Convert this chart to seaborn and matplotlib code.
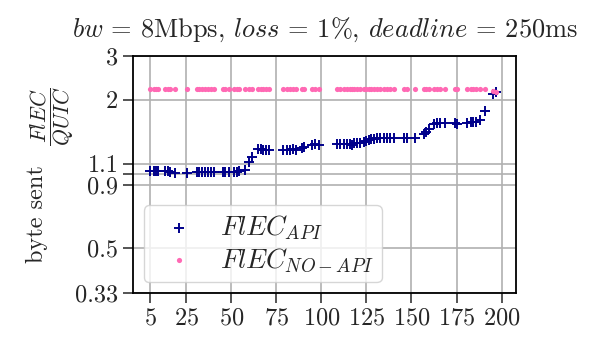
import numpy as np
import pandas as pd
import seaborn as sns
import matplotlib.pyplot as plt
from matplotlib.ticker import NullLocator

# x positions of the runs (shared by both series)
x_runs = [5, 6.9, 8.1, 9.6, 13.3, 14.8, 16.1, 18.9, 25.4, 30.9, 32.2, 33.7, 35.6, 37, 38.9, 40.2,
          45.7, 46.7, 48.5, 51.3, 53.1, 54.4, 57.8, 59.6, 61.5, 64.8, 66.3, 67.8, 69.2, 70.7,
          79, 80.8, 82.6, 84.5, 85.8, 89.3, 90.6, 94.8, 96.7, 98.5, 108.7, 110.6, 112.4,
          114.3, 116.1, 117, 118, 119.8, 121.3, 123.5, 125, 126.3, 127.6, 129, 130.9, 132.8,
          134.6, 136.5, 138.3, 140.2, 145.7, 147.6, 151.9, 156.9, 158.2, 159.6, 162.4, 164.3,
          166.1, 168.5, 174.1, 175.4, 181, 182.8, 184.1, 185.6, 187.8, 190.7, 195.5, 197]

flec_api = [1.03, 1.03, 1.03, 1.03, 1.03, 1.03, 1.02, 1.01, 1.01, 1.02, 1.02, 1.02, 1.02, 1.02, 1.02, 1.02,
            1.02, 1.02, 1.02, 1.02, 1.02, 1.03, 1.04, 1.12, 1.17, 1.26, 1.26, 1.25, 1.25, 1.25,
            1.25, 1.25, 1.25, 1.26, 1.25, 1.27, 1.28, 1.31, 1.32, 1.31, 1.32, 1.32, 1.32,
            1.32, 1.32, 1.31, 1.33, 1.33, 1.34, 1.35, 1.36, 1.37, 1.38, 1.39, 1.40, 1.40,
            1.40, 1.40, 1.40, 1.40, 1.40, 1.40, 1.40, 1.45, 1.48, 1.52, 1.60, 1.61,
            1.61, 1.61, 1.61, 1.60, 1.61, 1.62, 1.62, 1.63, 1.66, 1.80, 2.10, 2.14]

flec_noapi = [2.2] * 77 + [2.2, 2.17, 2.15]

yticks = [0.33, 0.5, 0.9, 1, 1.1, 2, 3]
ytick_labels = ["0.33", "0.5", "0.9", "", "1.1", "2", "3"]
xticks = [5, 25, 50, 75, 100, 125, 150, 175, 200]

df = pd.DataFrame({"x": x_runs, "api": flec_api, "noapi": flec_noapi})

sns.set_style("ticks")
plt.rcParams["font.family"] = ["serif"]
plt.rcParams["font.serif"] = ["cmr10", "DejaVu Serif"]
plt.rcParams["mathtext.fontset"] = "cm"
plt.rcParams["axes.formatter.use_mathtext"] = True
plt.rcParams["font.size"] = 17.5

fig = plt.figure(figsize=(5.98, 3.38), dpi=100)
ax = fig.add_axes([0.2224, 0.1331, 0.6405, 0.7012])

sns.scatterplot(data=df, x="x", y="api", marker="+", color="#00008b", s=46, linewidth=1.4,
                label=r"$FlEC_{API}$", ax=ax, zorder=3)
sns.scatterplot(data=df, x="x", y="noapi", marker="o", color="#ff69b4", s=14, linewidth=0,
                label=r"$FlEC_{NO-API}$", ax=ax, zorder=3)

ax.set_yscale("log")
ax.set_ylim(0.33, 3)
ax.set_yticks(yticks)
ax.set_yticklabels(ytick_labels)
ax.yaxis.set_minor_locator(NullLocator())
ax.set_xticks(xticks)
ax.set_xlim(-4.5, 208)

ax.grid(True, color="#b0b0b0", linewidth=1.2)
ax.set_axisbelow(True)
for sp in ax.spines.values():
    sp.set_linewidth(1.3)
    sp.set_color("black")
ax.tick_params(length=7, width=1.1, direction="out")

# y label: text plus the fraction
ax.set_xlabel("")
ax.set_ylabel("")
ax.text(-0.251, 0.335, "byte sent", rotation=90, ha="center", va="center",
        fontsize=17.5, transform=ax.transAxes)
ax.text(-0.21, 0.745, r"$\dfrac{FlEC}{QUIC}$", rotation=90, ha="center", va="center",
        fontsize=15.5, transform=ax.transAxes)

ax.set_title(r"$bw$ = 8Mbps, $loss$ = 1%, $deadline$ = 250ms", fontsize=19, pad=14)

ax.legend(loc="lower left", fontsize=19.5, handletextpad=0.5, labelspacing=0.15,
          borderpad=0.3, borderaxespad=0.4, handlelength=2.0)

fig.savefig("out.png", dpi=100)
